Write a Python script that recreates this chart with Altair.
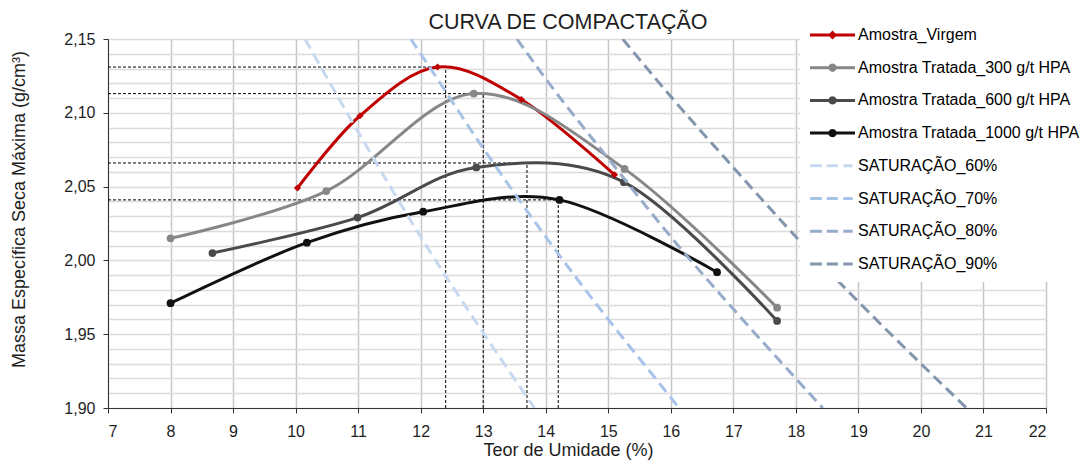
import math
import altair as alt
import pandas as pd

# ---------------- data ----------------
series_nomes = [
    "Amostra_Virgem",
    "Amostra Tratada_300 g/t HPA",
    "Amostra Tratada_600 g/t HPA",
    "Amostra Tratada_1000 g/t HPA",
    "SATURAÇÃO_60%",
    "SATURAÇÃO_70%",
    "SATURAÇÃO_80%",
    "SATURAÇÃO_90%",
]
cores = ["#C00000", "#878787", "#4a4a4a", "#111111",
         "#c6d9f0", "#a8c4e9", "#97abca", "#8396ae"]

virgem_w = [10.03, 11.03, 12.27, 13.61, 15.10]
virgem_rho = [2.049, 2.098, 2.131, 2.109, 2.058]

t300_w = [8.00, 10.49, 12.85, 15.26, 17.70]
t300_rho = [2.015, 2.047, 2.113, 2.062, 1.968]

t600_w = [8.67, 10.99, 12.89, 15.25, 17.70]
t600_rho = [2.005, 2.029, 2.063, 2.053, 1.959]

t1000_w = [8.00, 10.18, 12.04, 14.22, 16.74]
t1000_rho = [1.971, 2.012, 2.033, 2.041, 1.992]

sat60_w = [10.15, 11.0, 12.0, 13.0, 13.82]
sat60_rho = [2.150, 2.087, 2.016, 1.951, 1.900]
sat70_w = [11.84, 12.0, 13.0, 14.0, 15.0, 16.0, 16.13]
sat70_rho = [2.150, 2.140, 2.076, 2.016, 1.960, 1.907, 1.900]
sat80_w = [13.54, 14.0, 15.0, 16.0, 17.0, 18.0, 18.43]
sat80_rho = [2.150, 2.123, 2.069, 2.016, 1.967, 1.920, 1.900]
sat90_w = [15.23, 16.0, 17.0, 18.0, 19.0, 20.0, 20.73]
sat90_rho = [2.150, 2.111, 2.063, 2.016, 1.972, 1.930, 1.900]

otimo_w = [12.40, 13.00, 13.70, 14.20]
otimo_rho = [2.131, 2.113, 2.066, 2.041]

eixo_x = [7, 8, 9, 10, 11, 12, 13, 14, 15, 16, 17, 18, 19, 20, 21, 22]
eixo_y = [1.90, 1.91, 1.92, 1.93, 1.94, 1.95, 1.96, 1.97, 1.98, 1.99,
          2.00, 2.01, 2.02, 2.03, 2.04, 2.05, 2.06, 2.07, 2.08, 2.09,
          2.10, 2.11, 2.12, 2.13, 2.14, 2.15]

# ---------------- legend symbol shapes (SVG paths, 1 unit = 10 px) ----------------
linha = "M-1,-0.15L3.5,-0.15L3.5,0.15L-1,0.15Z"
circ_pts = [(1.25 + 0.42 * math.cos(math.radians(a)), 0.42 * math.sin(math.radians(a)))
            for a in range(0, 360, 30)]
circulo = "M" + "L".join(f"{px:.4f},{py:.4f}" for px, py in circ_pts) + "Z"
forma_circ = linha + " " + circulo
forma_diam = linha + " M1.25,-0.45L1.7,0L1.25,0.45L0.8,0Z"
forma_trac = ("M-1,-0.15L0.2,-0.15L0.2,0.15L-1,0.15Z "
              "M0.67,-0.15L1.8,-0.15L1.8,0.15L0.67,0.15Z "
              "M2.33,-0.15L3.26,-0.15L3.26,0.15L2.33,0.15Z")
formas = [forma_diam, forma_circ, forma_circ, forma_circ,
          forma_trac, forma_trac, forma_trac, forma_trac]

# ---------------- tables ----------------
amostras = pd.concat([
    pd.DataFrame({"w": w, "rho": r, "serie": n})
    for w, r, n in [(virgem_w, virgem_rho, series_nomes[0]),
                    (t300_w, t300_rho, series_nomes[1]),
                    (t600_w, t600_rho, series_nomes[2]),
                    (t1000_w, t1000_rho, series_nomes[3])]
], ignore_index=True)

saturacao = pd.concat([
    pd.DataFrame({"w": w, "rho": r, "serie": n})
    for w, r, n in [(sat60_w, sat60_rho, series_nomes[4]),
                    (sat70_w, sat70_rho, series_nomes[5]),
                    (sat80_w, sat80_rho, series_nomes[6]),
                    (sat90_w, sat90_rho, series_nomes[7])]
], ignore_index=True)

todas = pd.concat([amostras, saturacao], ignore_index=True)

otimo = pd.DataFrame({"w": otimo_w, "rho": otimo_rho,
                      "w_min": eixo_x[0], "rho_min": eixo_y[0]})

# ---------------- scales / axes ----------------
FONT = "Liberation Sans"
TXT = "#1e1e1e"
major = "abs(datum.value*20 - round(datum.value*20)) < 0.001"

x_scale = alt.Scale(domain=[eixo_x[0], eixo_x[-1]], nice=False, zero=False)
y_scale = alt.Scale(domain=[eixo_y[0], eixo_y[-1]], nice=False, zero=False)
color_scale = alt.Scale(domain=series_nomes, range=cores)

x_axis = alt.Axis(
    values=eixo_x, title="Teor de Umidade (%)", format="d",
    grid=True, gridColor="#c6c6c6", gridWidth=1.5,
    domainColor="#333333", tickColor="#333333", tickSize=5,
    labelFont=FONT, labelFontSize=16, labelColor=TXT, labelPadding=10,
    labelOverlap=False,
    titleFont=FONT, titleFontSize=18, titleFontWeight="normal", titleColor=TXT,
    titleX=460, titleY=47, titleBaseline="alphabetic",
)
y_axis = alt.Axis(
    values=eixo_y, title="Massa Específica Seca Máxima (g/cm³)",
    labelExpr=major + " ? replace(format(datum.value, '.2f'), '.', ',') : ''",
    tickOpacity={"condition": {"test": major, "value": 1}, "value": 0},
    grid=True, gridColor="#dcdcdc", gridWidth=1.3,
    domainColor="#333333", tickColor="#333333", tickSize=5,
    labelFont=FONT, labelFontSize=16, labelColor=TXT, labelPadding=8,
    labelOverlap=False,
    titleFont=FONT, titleFontSize=18, titleFontWeight="normal", titleColor=TXT,
    titleX=-84, titleY=170, titleBaseline="alphabetic",
)

X = alt.X("w:Q", scale=x_scale, axis=x_axis)
Y = alt.Y("rho:Q", scale=y_scale, axis=y_axis)
C = alt.Color("serie:N", scale=color_scale, legend=None)

# ---------------- layers ----------------
leg = alt.Legend(
    title=None, orient="none", legendX=692, legendY=-24,
    symbolSize=400, symbolStrokeWidth=0, symbolOpacity=1,
    labelFont=FONT, labelFontSize=16, labelColor="#000000", labelLimit=400,
    labelOffset=28, rowPadding=14.7, padding=10, fillColor="white",
)
legenda = alt.Chart(todas).mark_point(filled=True, opacity=0).encode(
    x=X, y=Y,
    color=alt.Color("serie:N", scale=color_scale, legend=leg),
    shape=alt.Shape("serie:N", scale=alt.Scale(domain=series_nomes, range=formas), legend=leg),
)

ref_h = alt.Chart(otimo).mark_rule(color="black", strokeWidth=1, strokeDash=[3, 2]).encode(
    x=alt.X("w_min:Q", scale=x_scale, axis=x_axis), x2="w:Q", y=Y)
ref_v = alt.Chart(otimo).mark_rule(color="black", strokeWidth=1, strokeDash=[3, 2]).encode(
    x=X, y=alt.Y("rho_min:Q", scale=y_scale, axis=y_axis), y2="rho:Q")

linhas = alt.Chart(amostras).mark_line(interpolate="cardinal", strokeWidth=3).encode(
    x=X, y=Y, color=C)

pontos_circ = alt.Chart(amostras).transform_filter(
    alt.datum.serie != series_nomes[0]
).mark_point(filled=True, shape="circle", size=60, opacity=1).encode(x=X, y=Y, color=C)

pontos_diam = alt.Chart(amostras).transform_filter(
    alt.datum.serie == series_nomes[0]
).mark_point(filled=True, shape="diamond", size=50, opacity=1).encode(x=X, y=Y, color=C)

sat = alt.Chart(saturacao).mark_line(
    interpolate="monotone", strokeWidth=3, strokeDash=[11, 6], clip=True
).encode(x=X, y=Y, color=C)

chart = alt.layer(legenda, ref_h, ref_v, linhas, pontos_circ, pontos_diam, sat).properties(
    width=938, height=369,
    autosize="none",
    padding={"left": 100, "top": 31, "right": 34, "bottom": 52},
    title=alt.TitleParams(
        "CURVA DE COMPACTAÇÃO", font=FONT, fontSize=21.5, fontWeight="normal",
        color=TXT, anchor="middle", frame="group", dx=-9, offset=0, dy=35,
        baseline="alphabetic",
    ),
).configure_view(stroke="transparent").configure(background="white")

chart.save("out.html", embed_options={"renderer": "svg", "actions": False})
